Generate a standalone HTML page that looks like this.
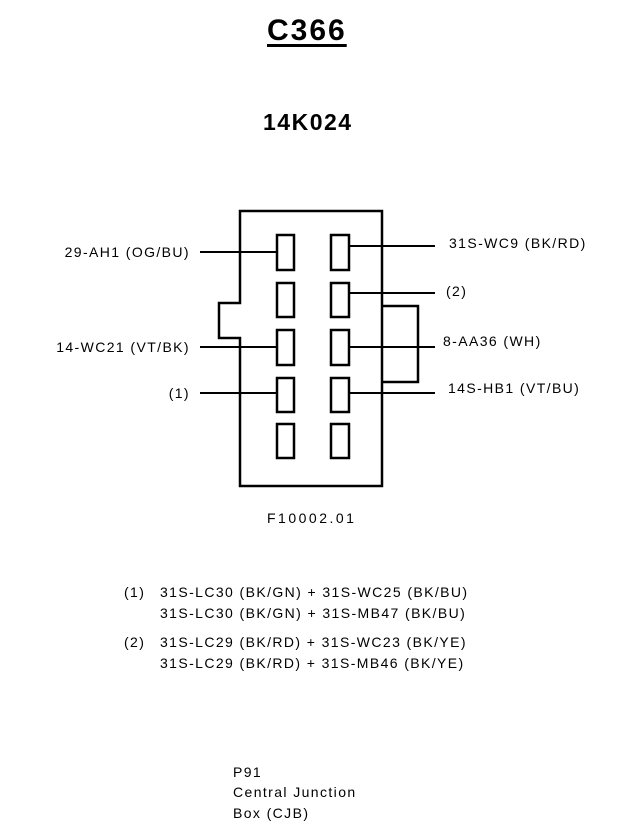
<!DOCTYPE html>
<html><head><style>
html,body{margin:0;padding:0;background:#fff;}
body{width:624px;height:836px;position:relative;overflow:hidden;font-family:"Liberation Sans",Arial,sans-serif;color:#000;}
.t{position:absolute;white-space:nowrap;font-size:14px;line-height:16px;letter-spacing:1.4px;}
.r{text-align:right;}
</style></head><body>
<div class="t" style="left:267px;top:14px;font-size:30px;line-height:34px;font-weight:bold;letter-spacing:2px;text-decoration:underline;text-decoration-thickness:3px;text-underline-offset:4px;">C366</div>
<div class="t" style="left:263px;top:108px;font-size:23px;line-height:28px;font-weight:bold;letter-spacing:1.5px;">14K024</div>
<svg width="624" height="836" style="position:absolute;left:0;top:0" xmlns="http://www.w3.org/2000/svg">
<g fill="none" stroke="#000" stroke-width="2.5">
<path d="M240 211 H382 V486 H240 V338 H219 V303 H240 Z"/>
<rect x="277" y="235" width="17" height="35"/>
<rect x="277" y="283" width="17" height="34"/>
<rect x="277" y="330" width="17" height="35"/>
<rect x="277" y="378" width="17" height="34"/>
<rect x="277" y="424" width="17" height="34"/>
<rect x="331" y="235" width="18" height="35"/>
<rect x="331" y="283" width="18" height="34"/>
<rect x="331" y="330" width="18" height="35"/>
<rect x="331" y="378" width="18" height="34"/>
<rect x="331" y="424" width="18" height="34"/>
<path d="M382 306 H418 V382 H382"/>
</g>
<g stroke="#000" stroke-width="2">
<line x1="200" y1="252" x2="277" y2="252"/>
<line x1="200" y1="347" x2="277" y2="347"/>
<line x1="200" y1="393" x2="277" y2="393"/>
<line x1="349" y1="246" x2="435" y2="246"/>
<line x1="349" y1="293" x2="435" y2="293"/>
<line x1="349" y1="347" x2="435" y2="347"/>
<line x1="349" y1="393" x2="435" y2="393"/>
</g>
</svg>
<div class="t r" style="right:434px;top:244px;">29-AH1 (OG/BU)</div>
<div class="t r" style="right:434px;top:339px;">14-WC21 (VT/BK)</div>
<div class="t r" style="right:434px;top:385px;">(1)</div>
<div class="t" style="left:449px;top:235px;">31S-WC9 (BK/RD)</div>
<div class="t" style="left:446px;top:283px;">(2)</div>
<div class="t" style="left:443px;top:333px;">8-AA36 (WH)</div>
<div class="t" style="left:448px;top:380px;">14S-HB1 (VT/BU)</div>
<div class="t" style="left:267px;top:510px;letter-spacing:2.5px;">F10002.01</div>
<div class="t" style="left:124px;top:584px;">(1)</div>
<div class="t" style="left:160px;top:584px;">31S-LC30 (BK/GN) + 31S-WC25 (BK/BU)</div>
<div class="t" style="left:160px;top:605px;">31S-LC30 (BK/GN) + 31S-MB47 (BK/BU)</div>
<div class="t" style="left:124px;top:634px;">(2)</div>
<div class="t" style="left:160px;top:634px;">31S-LC29 (BK/RD) + 31S-WC23 (BK/YE)</div>
<div class="t" style="left:160px;top:655px;">31S-LC29 (BK/RD) + 31S-MB46 (BK/YE)</div>
<div class="t" style="left:233px;top:764px;">P91</div>
<div class="t" style="left:233px;top:784px;">Central Junction</div>
<div class="t" style="left:233px;top:805px;">Box (CJB)</div>
</body></html>
